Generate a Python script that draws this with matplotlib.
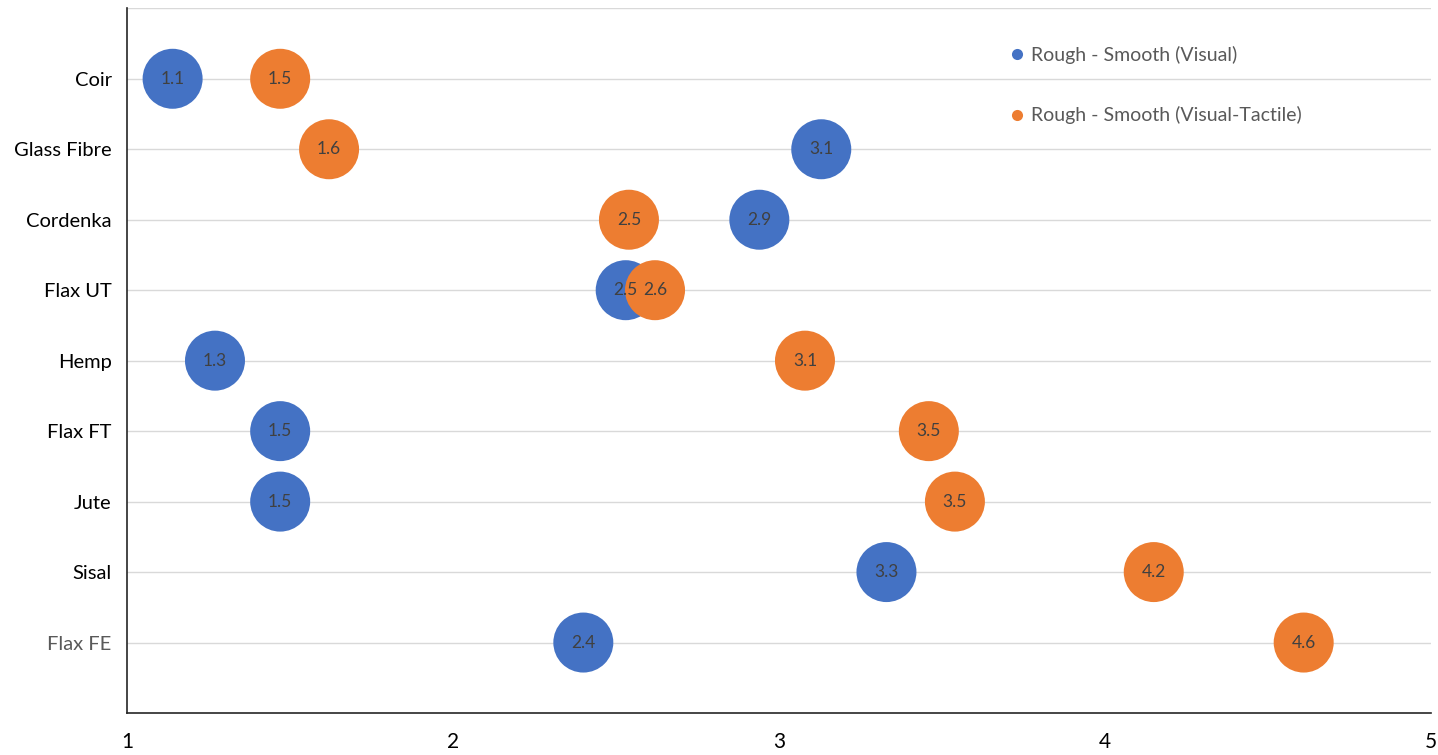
import matplotlib.pyplot as plt
from matplotlib.lines import Line2D
import numpy as np

plt.rcParams['font.family'] = ['Lato', 'DejaVu Sans']

# fibres listed top to bottom
fibres = ['Coir', 'Glass Fibre', 'Cordenka', 'Flax UT', 'Hemp',
          'Flax FT', 'Jute', 'Sisal', 'Flax FE']
visual = np.array([1.14, 3.13, 2.94, 2.53, 1.27, 1.47, 1.47, 3.33, 2.40])
visual_tactile = np.array([1.47, 1.62, 2.54, 2.62, 3.08, 3.46, 3.54, 4.15, 4.61])
series_names = ['Rough - Smooth (Visual)', 'Rough - Smooth (Visual-Tactile)']

blue = '#4472C4'
orange = '#ED7D31'

fig = plt.figure(figsize=(14.38, 7.55), dpi=100)
ax = fig.add_axes([0.0883, 0.0556, 0.9067, 0.9334])

ypos = np.arange(len(fibres), 0, -1)

ax.scatter(visual, ypos, s=1866, color=blue, edgecolors='none', zorder=3)
ax.scatter(visual_tactile, ypos, s=1866, color=orange, edgecolors='none', zorder=4)

for xs in (visual, visual_tactile):
    for x, y in zip(xs, ypos):
        ax.text(x, y, f'{x:.1f}', ha='center', va='center', fontsize=12.5,
                color='#404040', zorder=5)

ax.set_xlim(1, 5)
ax.set_ylim(0, 10)
ax.set_xticks([1, 2, 3, 4, 5])
ax.set_yticks(list(ypos) + [10])
ax.set_yticklabels(fibres + [''])
ax.tick_params(axis='both', length=0)
ax.tick_params(axis='x', pad=14, labelsize=15)
ax.tick_params(axis='y', pad=11, labelsize=14.5)
ax.get_yticklabels()[-2].set_color('#595959')

ax.grid(axis='y', color='#D9D9D9', linewidth=1, zorder=0)
for side in ('top', 'right'):
    ax.spines[side].set_visible(False)
for side in ('left', 'bottom'):
    ax.spines[side].set_color('#262626')
    ax.spines[side].set_linewidth(1.2)

handles = [Line2D([], [], marker='o', linestyle='none', markersize=8,
                  markerfacecolor=c, markeredgecolor='none') for c in (blue, orange)]
leg = ax.legend(handles, series_names, loc='upper left', bbox_to_anchor=(0.665, 0.972),
                frameon=False, fontsize=14, labelspacing=2.2, handlelength=0.6,
                handletextpad=0.4, labelcolor='#595959')

fig.savefig('out.png', dpi=100)
